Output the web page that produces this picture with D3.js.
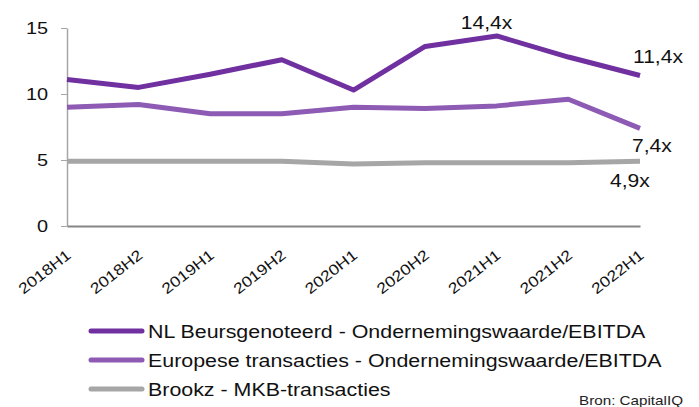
<!DOCTYPE html>
<html>
<head>
<meta charset="utf-8">
<script src="https://cdn.jsdelivr.net/npm/d3@7"></script>
<style>
  body { margin: 0; background: #fff; }
  svg { display: block; font-family: Arial, "Liberation Sans", sans-serif; }
</style>
</head>
<body>
<svg id="chart" width="699" height="407"></svg>
<script>
// Multiples chart — three series over half-years

const PERIODS = ['2018H1','2018H2','2019H1','2019H2','2020H1','2020H2','2021H1','2021H2','2022H1'];
const NL_BEURS = [11.1, 10.5, 11.5, 12.6, 10.3, 13.6, 14.4, 12.8, 11.4];
const EUROPA   = [9.0, 9.2, 8.5, 8.5, 9.0, 8.9, 9.1, 9.6, 7.4];
const BROOKZ   = [4.9, 4.9, 4.9, 4.9, 4.7, 4.8, 4.8, 4.8, 4.9];
const Y_TICKS  = [0, 5, 10, 15];

const SERIES = [
    { name: 'NL Beursgenoteerd - Ondernemingswaarde/EBITDA', values: NL_BEURS, color: '#7030a0' },
    { name: 'Europese transacties - Ondernemingswaarde/EBITDA', values: EUROPA, color: '#8d5ab4' },
    { name: 'Brookz - MKB-transacties', values: BROOKZ, color: '#a6a6a6' },
];

const svg = d3.select('#chart');
const M = { left: 67, right: 59, top: 28, bottom: 181 };
const W = 699, H = 407;
const STRETCH = 1.17;   // the source text is a bit wider than Arial

// widen text horizontally to match the source
function stretch(sel) {
    sel.each(function() {
        const w = this.getComputedTextLength();
        d3.select(this).attr('textLength', w * STRETCH).attr('lengthAdjust', 'spacingAndGlyphs');
    });
}

const x = d3.scalePoint().domain(PERIODS).range([M.left, W - M.right]);
const y = d3.scaleLinear().domain([0, 15]).range([H - M.bottom, M.top]);

// ── Axes ─────────────────────────────────────────────────────────────────
const yAxis = svg.append('g')
    .attr('transform', `translate(${M.left},0)`)
    .call(d3.axisLeft(y).tickValues(Y_TICKS).tickSize(6).tickPadding(13).tickSizeOuter(0));
yAxis.select('.domain').attr('stroke', '#a6a6a6').attr('stroke-width', 1.5);
yAxis.selectAll('.tick line').attr('stroke', '#a6a6a6');
yAxis.selectAll('text').attr('font-size', '17px').attr('fill', '#111')
    .attr('font-family', 'Arial, "Liberation Sans", sans-serif')
    .call(stretch);

const xAxis = svg.append('g')
    .attr('transform', `translate(0,${y(0)})`)
    .call(d3.axisBottom(x).tickSize(0).tickSizeOuter(0).tickFormat(''));
xAxis.select('.domain').attr('stroke', '#858585').attr('stroke-width', 2);

svg.append('g').selectAll('text')
    .data(PERIODS)
    .join('text')
    .attr('transform', d => `translate(${x(d) + 5},${y(0) + 31}) rotate(-38)`)
    .attr('text-anchor', 'end')
    .attr('font-size', '15px')
    .attr('fill', '#111')
    .text(d => d)
    .call(stretch);

// ── Lines ────────────────────────────────────────────────────────────────
const line = d3.line().x((d, i) => x(PERIODS[i])).y(d => y(d));

[...SERIES].reverse().forEach(s => {
    svg.append('path')
        .datum(s.values)
        .attr('d', line)
        .attr('fill', 'none')
        .attr('stroke', s.color)
        .attr('stroke-width', 5)
        .attr('stroke-linejoin', 'round');
});

// ── Value labels ─────────────────────────────────────────────────────────
const last = PERIODS.length - 1;
const labels = [
    { text: '14,4x', px: x(PERIODS[6]) - 36, py: y(NL_BEURS[6]) - 7 },
    { text: '11,4x', px: x(PERIODS[last]) - 7, py: y(NL_BEURS[last]) - 12.5 },
    { text: '7,4x',  px: x(PERIODS[last]) - 8, py: y(EUROPA[last]) + 24 },
    { text: '4,9x',  px: x(PERIODS[last]) - 30, py: y(BROOKZ[last]) + 26 },
];
svg.append('g').selectAll('text')
    .data(labels)
    .join('text')
    .attr('x', d => d.px)
    .attr('y', d => d.py)
    .attr('font-size', '18px')
    .attr('fill', '#111')
    .text(d => d.text)
    .call(stretch);

// ── Legend ───────────────────────────────────────────────────────────────
const leg = svg.append('g').attr('transform', 'translate(89,331)');
SERIES.forEach((s, i) => {
    const g = leg.append('g').attr('transform', `translate(0,${i * 29})`);
    g.append('line').attr('x1', 2).attr('x2', 53).attr('y1', 0).attr('y2', 0)
        .attr('stroke', s.color).attr('stroke-width', 5).attr('stroke-linecap', 'round');
    g.append('text').attr('x', 59).attr('y', 6.5)
        .attr('font-size', '18.3px').attr('fill', '#111').text(s.name)
        .call(stretch);
});

svg.append('text')
    .attr('x', 579).attr('y', 405)
    .attr('font-size', '13px')
    .attr('fill', '#222')
    .text('Bron: CapitalIQ')
    .call(stretch);
</script>
</body>
</html>
